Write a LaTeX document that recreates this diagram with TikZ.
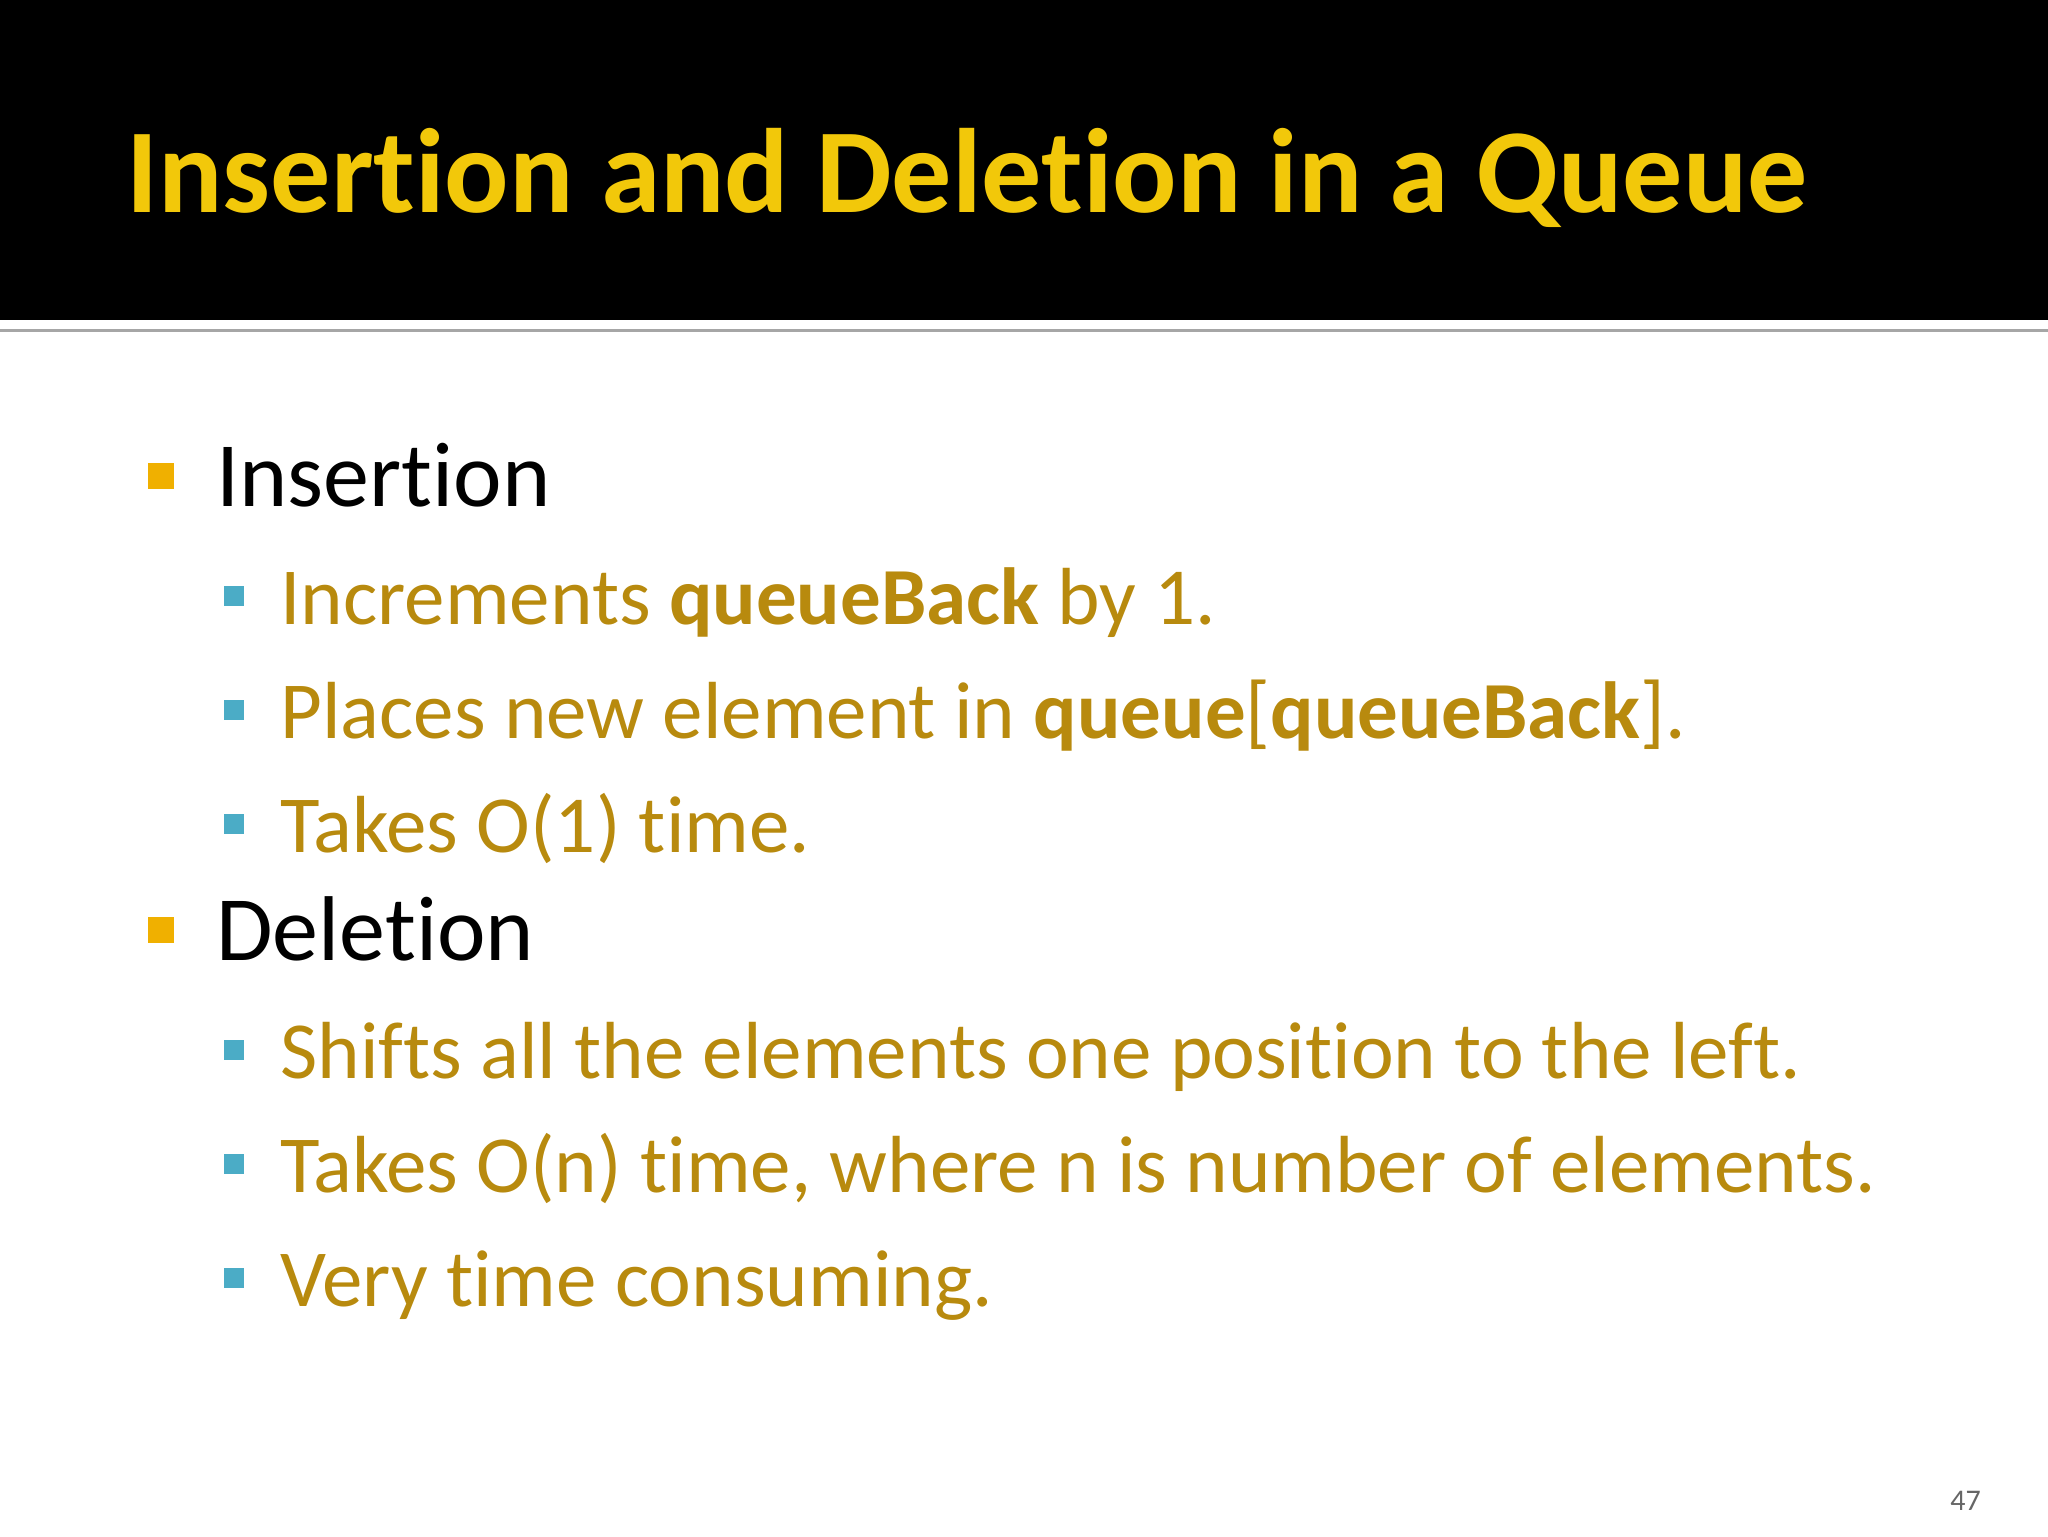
\documentclass[tikz,border=0pt]{standalone}
\usepackage{fontspec}
\setmainfont[Ligatures={NoCommon}]{Carlito}
\definecolor{ttl}{RGB}{242,200,10}
\definecolor{gold}{RGB}{184,138,14}
\definecolor{orb}{RGB}{240,176,0}
\definecolor{teal}{RGB}{75,172,198}
\begin{document}
\begin{tikzpicture}[x=1pt,y=1pt,
  l1/.style={anchor=base west,inner sep=0,font=\fontsize{46}{54}\selectfont},
  l2/.style={anchor=base west,inner sep=0,text=gold,font=\fontsize{40.5}{48}\selectfont},
  b1/.style={fill=orb,minimum size=13pt,inner sep=0},
  b2/.style={fill=teal,minimum size=10pt,inner sep=0}]
\useasboundingbox (0,0) rectangle (1024,-768);
\fill[black] (0,0) rectangle (1024,-160);
\draw[gray!70,line width=1.5pt] (0,-165) -- (1024,-165);
\node[anchor=base west,inner sep=0,text=ttl,font=\fontsize{60}{68}\selectfont\bfseries] (t) at (63,-106) {Insertion and Deletion in a Queue};
\node[b1] (bi) at (80.5,-238) {};
\node[l1] (i) at (108,-253) {Insertion};
\node[b2] (b1) at (117,-298) {};
\node[l2] (i1) at (140,-312) {Increments \textbf{queueBack} by 1.};
\node[b2] (b2) at (117,-355) {};
\node[l2] (i2) at (140,-369) {Places new element in \textbf{queue}[\textbf{queueBack}].};
\node[b2] (b3) at (117,-412) {};
\node[l2] (i3) at (140,-426) {Takes O(1) time.};
\node[b1] (bd) at (80.5,-465) {};
\node[l1] (d) at (108,-480) {Deletion};
\node[b2] (b4) at (117,-525) {};
\node[l2] (d1) at (140,-539) {Shifts all the elements one position to the left.};
\node[b2] (b5) at (117,-582) {};
\node[l2] (d2) at (140,-596) {Takes O(n) time, where n is number of elements.};
\node[b2] (b6) at (117,-639) {};
\node[l2] (d3) at (140,-653) {Very time consuming.};
\node[anchor=base west,inner sep=0,text=gray!80!black,font=\fontsize{15}{18}\selectfont] (pg) at (975,-755) {47};
\end{tikzpicture}
\end{document}
